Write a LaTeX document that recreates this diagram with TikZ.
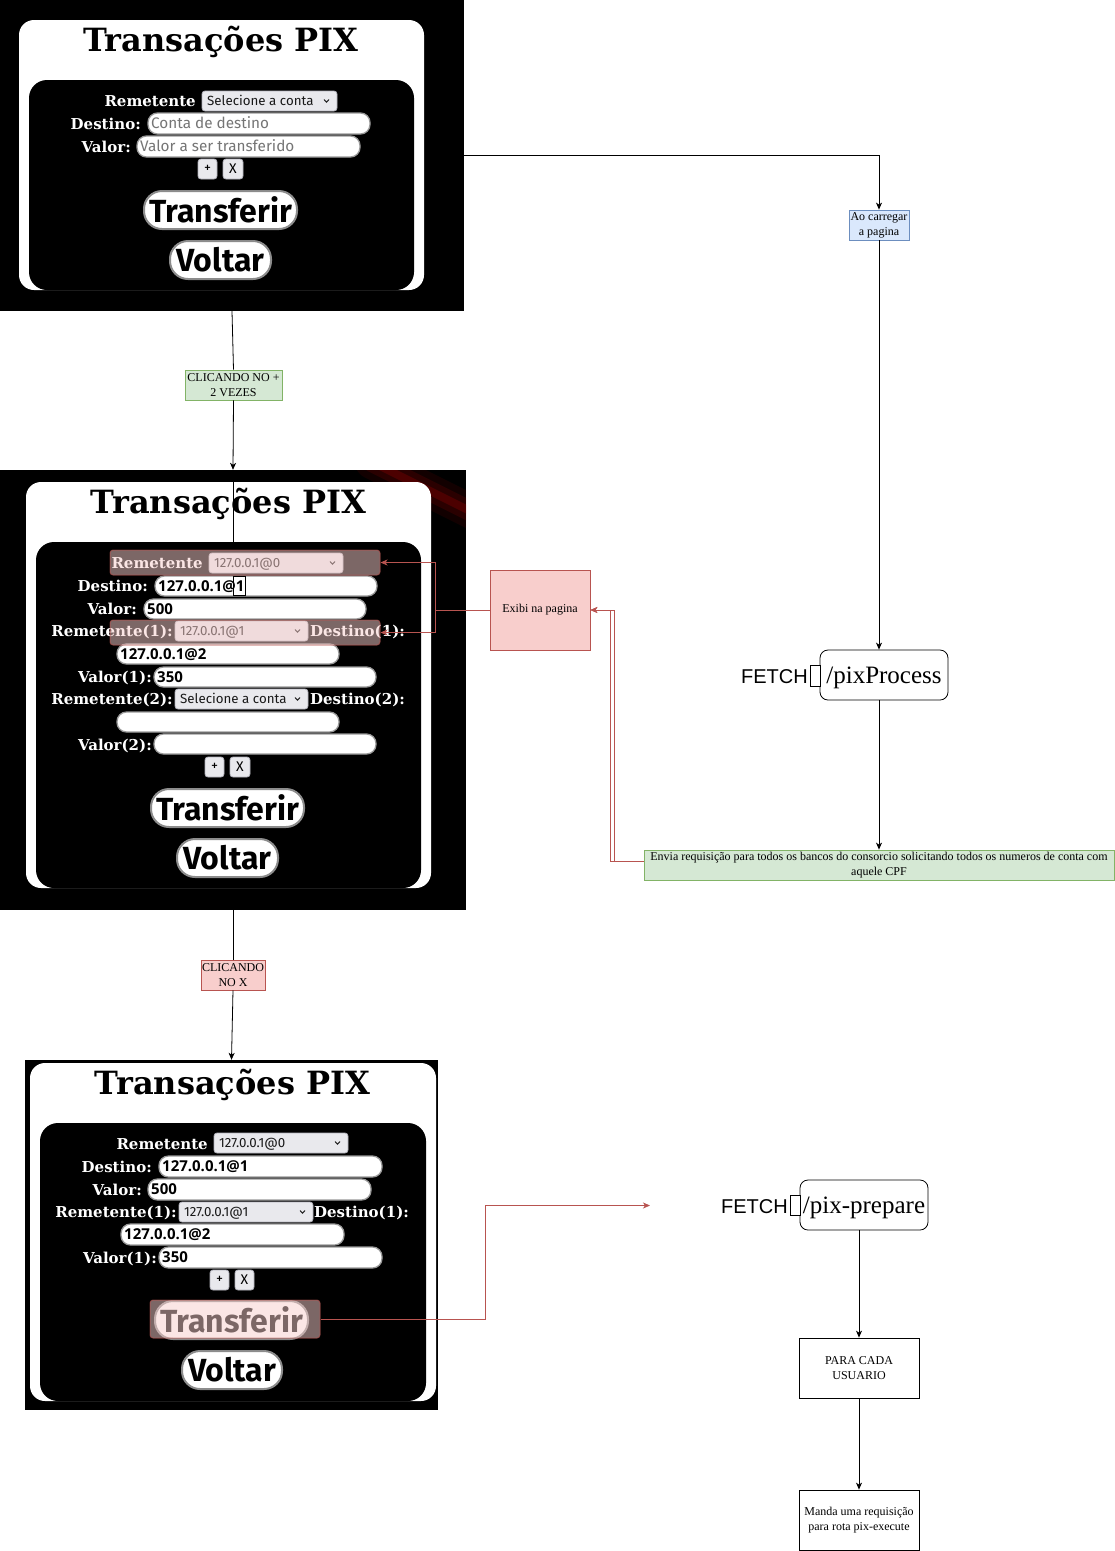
\documentclass[tikz,border=0pt]{standalone}
\usepackage{fontspec}
\setmainfont{Liberation Serif}
\newfontfamily\djs{DejaVu Serif}
\newfontfamily\uifont{Fira Sans}
\newfontfamily\valfont{Open Sans}
\newfontfamily\arialf{Liberation Sans}
\usetikzlibrary{arrows.meta}
\definecolor{redS}{HTML}{B85450}
\definecolor{redF}{HTML}{F8CECC}
\definecolor{grnS}{HTML}{82B366}
\definecolor{grnF}{HTML}{D5E8D4}
\definecolor{bluS}{HTML}{6C8EBF}
\definecolor{bluF}{HTML}{DAE8FC}
\definecolor{selF}{HTML}{E9E9ED}
\definecolor{selS}{HTML}{8F8F9D}
\definecolor{phG}{HTML}{757575}
\newcommand\mkbox[7]{\node[#1, minimum width={(#5)-(#3)}, minimum height={(#6)-(#4)}] (#2) at ({((#3)+(#5))/2},{((#4)+(#6))/2}) {#7};}
\newcommand\mkval[6]{% name x1 y1 x2 y2 text (input with value)
  \mkbox{pill}{#1}{#2}{#3}{#4}{#5}{}
  \node[valtext] (#1t) at ({(#2)+3},{((#3)+(#5))/2+5}) {#6};}
\newcommand\mkph[6]{% placeholder input
  \mkbox{pill}{#1}{#2}{#3}{#4}{#5}{}
  \node[phtext] (#1t) at ({(#2)+3},{((#3)+(#5))/2+5.3}) {#6};}
\newcommand\mksel[6]{%
  \mkbox{selbox}{#1}{#2}{#3}{#4}{#5}{}
  \node[seltext] (#1t) at ({(#2)+5},{((#3)+(#5))/2+4.5}) {#6};
  \draw[line width=1pt, black!85] ({(#4)-13},{((#3)+(#5))/2-1.5}) -- ({(#4)-10.5},{((#3)+(#5))/2+1.2}) -- ({(#4)-8},{((#3)+(#5))/2-1.5});}
\tikzset{
  pill/.style={draw=black!40, line width=1.3pt, fill=white, rounded corners=9.5pt, inner sep=0},
  bigbtn/.style={draw=black!45, line width=2pt, fill=white, rounded corners=18pt, inner sep=0,
     font=\uifont\bfseries\fontsize{32}{36}\selectfont},
  selbox/.style={draw=selS!70, line width=0.8pt, fill=selF, rounded corners=3pt, inner sep=0},
  smallbtn/.style={selbox, font=\uifont\fontsize{14}{16}\selectfont},
  valtext/.style={inner sep=0, anchor=base west, font=\valfont\bfseries\fontsize{15}{17}\selectfont},
  phtext/.style={inner sep=0, anchor=base west, text=phG, font=\uifont\fontsize{15.3}{18}\selectfont},
  seltext/.style={inner sep=0, anchor=base west, text=black!90, font=\uifont\fontsize{13.3}{16}\selectfont},
  uilab/.style={inner sep=0, anchor=base east, text=white, font=\djs\bfseries\fontsize{15}{17}\selectfont},
  uilabw/.style={uilab, anchor=base west},
  ttl/.style={inner sep=0, anchor=base, font=\djs\bfseries\fontsize{32}{36}\selectfont},
  shot/.style={fill=black, inner sep=0},
  ovl/.style={fill=redF, fill opacity=0.5, draw=redS, draw opacity=0.6, line width=1pt, rounded corners=3pt, inner sep=0},
  dbox/.style={inner sep=1pt, align=center, font=\fontsize{12}{15}\selectfont, line width=0.8pt},
  gbox/.style={dbox, fill=grnF, draw=grnS},
  rbox/.style={dbox, fill=redF, draw=redS},
  bbox/.style={dbox, fill=bluF, draw=bluS},
  wbox/.style={dbox, draw=black, fill=white},
  route/.style={dbox, draw=black, fill=white, rounded corners=8pt, text height=16pt, text depth=0pt,
     font=\fontsize{25}{30}\selectfont},
  port/.style={draw=black, fill=white, line width=0.8pt, inner sep=0},
  fetchlab/.style={inner sep=0, anchor=base east, font=\arialf\fontsize{20}{24}\selectfont},
  arr/.style={line width=0.8pt, -{Stealth[length=7pt,width=6pt,inset=2pt]}},
  rarr/.style={arr, draw=redS},
}
\begin{document}
\begin{tikzpicture}[x=1pt,y=-1pt]
\useasboundingbox (0,0) rectangle (1115,1551);
\fill[white] (0,0) rectangle (1115,1551);

% ---------------- screenshot 1 ----------------
\mkbox{shot}{s1}{0}{0}{464}{311}{}
\fill[white, rounded corners=15] (19,20) rectangle (424,290);
\fill[black, rounded corners=18] (29,80) rectangle (414,290);
\node[ttl] (s1title) at (221,51.5) {Transações PIX};
\node[uilab] (s1l1) at (196,106) {Remetente};
\mksel{s1sel}{202}{91}{337}{111}{Selecione a conta}
\node[uilab] (s1l2) at (141,129) {Destino:};
\mkph{s1dst}{148}{113}{370}{134}{Conta de destino}
\node[uilab] (s1l3) at (131,152) {Valor:};
\mkph{s1val}{137}{136}{360}{157}{Valor a ser transferido}
\mkbox{smallbtn}{s1plus}{198}{159}{217}{179}{+}
\mkbox{smallbtn}{s1x}{223}{159}{243}{179}{X}
\mkbox{bigbtn}{s1tr}{144}{191}{297}{229}{Transferir}
\mkbox{bigbtn}{s1vo}{170}{241}{271}{279}{Voltar}

% ---------------- screenshot 2 ----------------
\mkbox{shot}{s2}{0}{470}{466}{910}{}
\begin{scope}
\clip (0,470) rectangle (466,910);
\draw[line width=34, red!60!black, opacity=0.12, line cap=round] (372,462) -- (476,514);
\draw[line width=20, red!60!black, opacity=0.18, line cap=round] (372,462) -- (476,514);
\draw[line width=8, red!70!black, opacity=0.25, line cap=round] (372,462) -- (476,514);
\end{scope}
\fill[white, rounded corners=15] (26,482) rectangle (431,888);
\fill[black, rounded corners=18] (36,542) rectangle (421,888);
\node[ttl] (s2title) at (228.5,513) {Transações PIX};
\node[uilab] (s2l1) at (203,568) {Remetente};
\mksel{s2sel}{209}{553}{343}{573}{127.0.0.1@0}
\node[uilab] (s2l2) at (148,591) {Destino:};
\mkval{s2dst}{155}{576}{377}{596}{127.0.0.1@1}
\node[uilab] (s2l3) at (137,614) {Valor:};
\mkval{s2val}{144}{599}{366}{619}{500}
\node[uilab] (s2l4) at (173,636) {Remetente(1):};
\mksel{s2sel1}{175}{621}{308}{641}{127.0.0.1@1}
\node[uilabw] (s2l5) at (310,636) {Destino(1):};
\mkval{s2dst1}{117}{644}{339}{664}{127.0.0.1@2}
\node[uilab] (s2l6) at (152,682) {Valor(1):};
\mkval{s2val1}{154}{667}{376}{687}{350}
\node[uilab] (s2l7) at (173,704) {Remetente(2):};
\mksel{s2sel2}{175}{689}{308}{709}{Selecione a conta}
\node[uilabw] (s2l8) at (310,704) {Destino(2):};
\mkbox{pill}{s2dst2}{117}{712}{339}{732}{}
\node[uilab] (s2l9) at (152,750) {Valor(2):};
\mkbox{pill}{s2val2}{154}{734}{376}{754}{}
\mkbox{smallbtn}{s2plus}{205}{757}{224}{777}{+}
\mkbox{smallbtn}{s2x}{230}{757}{250}{777}{X}
\mkbox{bigbtn}{s2tr}{151}{789}{304}{827}{Transferir}
\mkbox{bigbtn}{s2vo}{177}{839}{278}{877}{Voltar}
\draw[line width=1pt] (233,576) rectangle (245.5,595);
\mkbox{ovl}{ov1}{110}{550}{380}{575}{}
\mkbox{ovl}{ov2}{110}{620}{380}{645}{}

% ---------------- screenshot 3 ----------------
\mkbox{shot}{s3}{25}{1060}{438}{1410}{}
\fill[white, rounded corners=15] (30,1063) rectangle (436,1401);
\fill[black, rounded corners=18] (40,1123) rectangle (426,1401);
\node[ttl] (s3title) at (232.5,1094) {Transações PIX};
\node[uilab] (s3l1) at (208,1149) {Remetente};
\mksel{s3sel}{214}{1133}{348}{1153}{127.0.0.1@0}
\node[uilab] (s3l2) at (152,1172) {Destino:};
\mkval{s3dst}{159}{1156}{382}{1177}{127.0.0.1@1}
\node[uilab] (s3l3) at (142,1195) {Valor:};
\mkval{s3val}{148}{1179}{371}{1200}{500}
\node[uilab] (s3l4) at (177,1217) {Remetente(1):};
\mksel{s3sel1}{179}{1202}{313}{1222}{127.0.0.1@1}
\node[uilabw] (s3l5) at (314,1217) {Destino(1):};
\mkval{s3dst1}{121}{1224}{344}{1245}{127.0.0.1@2}
\node[uilab] (s3l6) at (157,1263) {Valor(1):};
\mkval{s3val1}{159}{1247}{382}{1268}{350}
\mkbox{smallbtn}{s3plus}{210}{1270}{229}{1290}{+}
\mkbox{smallbtn}{s3x}{235}{1270}{254}{1290}{X}
\mkbox{bigbtn}{s3tr}{155}{1301}{308}{1339}{Transferir}
\mkbox{bigbtn}{s3vo}{182}{1351}{282}{1389}{Voltar}
\mkbox{ovl}{ov3}{150}{1300}{320}{1338}{}

% ---------------- diagram boxes ----------------
\mkbox{gbox}{c1}{185}{370}{282}{400}{CLICANDO NO +\\2 VEZES}
\mkbox{rbox}{c2}{203}{960}{263}{990}{CLICANDO\\NO X}
\mkbox{bbox}{ao}{849}{210}{909}{240}{Ao carregar\\a pagina}
\mkbox{rbox}{ex}{490}{570}{590}{650}{Exibi na pagina}
\mkbox{route}{pp}{820}{650}{948}{700}{/pixProcess}
\mkbox{port}{ppport}{810}{665}{820}{686}{}
\node[fetchlab] (ppfetch) at (808,683) {FETCH};
\mkbox{gbox}{gr}{644}{850}{1114}{880}{Envia requisição para todos os bancos do consorcio solicitando todos os numeros de conta com\\aquele CPF}
\mkbox{route}{pr}{800}{1180}{928}{1230}{/pix-prepare}
\mkbox{port}{prport}{790}{1195}{800}{1215}{}
\node[fetchlab] (prfetch) at (788,1213) {FETCH};
\mkbox{wbox}{pc}{799}{1338}{919}{1398}{PARA CADA\\USUARIO}
\mkbox{wbox}{mu}{799}{1490}{919}{1550}{Manda uma requisição\\para rota pix-execute}
\coordinate (pe) at (650,1205.5);

% ---------------- connectors ----------------
\draw[line width=0.8pt] (s1.south) -- (c1.north);
\draw[arr] (c1.south) -- (s2.north);
\draw[line width=1pt] (233,482) -- (233,542);
\draw[line width=0.8pt] (s2.south) -- (c2.north);
\draw[arr] (c2.south) -- (s3.north);
\draw[arr] (s1.east) -| (ao.north);
\draw[arr] (ao.south) -- (ao.south |- pp.north);
\draw[arr] (gr.north |- pp.south) -- (gr.north);
\draw[rarr] (ex.west) -- ([xshift=-54pt]ex.west) |- (ov1.east);
\draw[rarr] ([xshift=-54pt]ex.west) |- (ov2.east);
\draw[rarr] ([yshift=4pt]gr.west) -- ++(-33,0) |- (ex.east);
\draw[rarr] ([yshift=4pt]gr.west) -- ++(-29,0) |- (ex.east);
\draw[rarr] (ov3.east) -- ++(165,0) |- (pe);
\draw[arr] (pc.north |- pr.south) -- (pc.north);
\draw[arr] (pc.south) -- (mu.north);
\end{tikzpicture}
\end{document}
